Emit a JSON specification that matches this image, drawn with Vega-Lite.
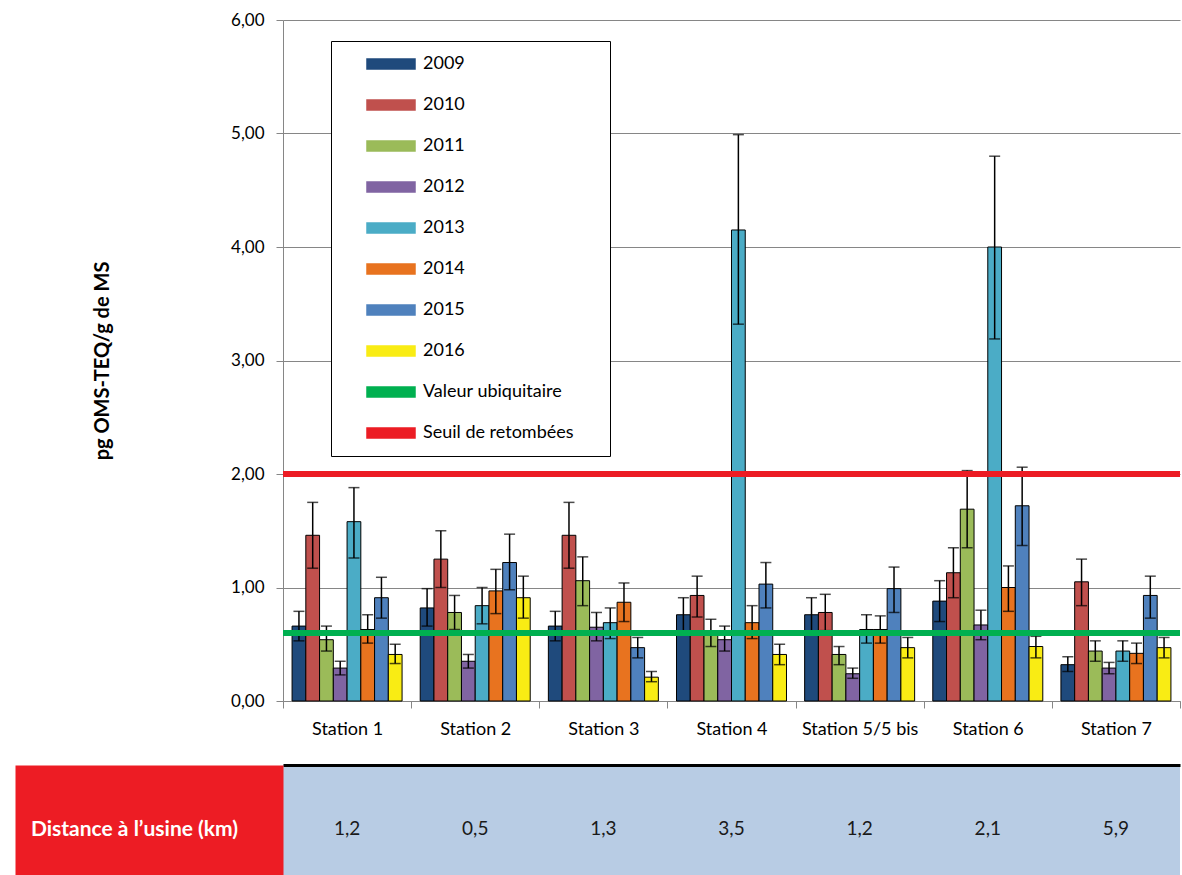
{
  "$schema": "https://vega.github.io/schema/vega-lite/v6.json",
  "padding": {"left": -40, "top": 11, "right": 0, "bottom": 0},
  "spacing": 27,
  "config": {
    "font": "Lato",
    "view": {"stroke": null},
    "locale": {"number": {"decimal": ",", "thousands": " ", "grouping": [3], "currency": ["", " €"]}},
    "axis": {"labelFont": "Lato", "titleFont": "Lato", "labelColor": "#000000", "titleColor": "#000000"}
  },
  "vconcat": [
    {
      "width": 897,
      "height": 681,
      "data": {
        "values": [
          {"station": "Station 1", "year": "2009", "value": 0.66, "lo": 0.53, "hi": 0.79},
          {"station": "Station 1", "year": "2010", "value": 1.46, "lo": 1.17, "hi": 1.75},
          {"station": "Station 1", "year": "2011", "value": 0.54, "lo": 0.44, "hi": 0.66},
          {"station": "Station 1", "year": "2012", "value": 0.29, "lo": 0.23, "hi": 0.35},
          {"station": "Station 1", "year": "2013", "value": 1.58, "lo": 1.26, "hi": 1.88},
          {"station": "Station 1", "year": "2014", "value": 0.63, "lo": 0.51, "hi": 0.76},
          {"station": "Station 1", "year": "2015", "value": 0.91, "lo": 0.73, "hi": 1.09},
          {"station": "Station 1", "year": "2016", "value": 0.41, "lo": 0.33, "hi": 0.5},
          {"station": "Station 2", "year": "2009", "value": 0.82, "lo": 0.66, "hi": 0.99},
          {"station": "Station 2", "year": "2010", "value": 1.25, "lo": 1.0, "hi": 1.5},
          {"station": "Station 2", "year": "2011", "value": 0.78, "lo": 0.63, "hi": 0.93},
          {"station": "Station 2", "year": "2012", "value": 0.35, "lo": 0.29, "hi": 0.41},
          {"station": "Station 2", "year": "2013", "value": 0.84, "lo": 0.68, "hi": 1.0},
          {"station": "Station 2", "year": "2014", "value": 0.97, "lo": 0.77, "hi": 1.16},
          {"station": "Station 2", "year": "2015", "value": 1.22, "lo": 0.98, "hi": 1.47},
          {"station": "Station 2", "year": "2016", "value": 0.91, "lo": 0.73, "hi": 1.1},
          {"station": "Station 3", "year": "2009", "value": 0.66, "lo": 0.53, "hi": 0.79},
          {"station": "Station 3", "year": "2010", "value": 1.46, "lo": 1.17, "hi": 1.75},
          {"station": "Station 3", "year": "2011", "value": 1.06, "lo": 0.84, "hi": 1.27},
          {"station": "Station 3", "year": "2012", "value": 0.65, "lo": 0.53, "hi": 0.78},
          {"station": "Station 3", "year": "2013", "value": 0.69, "lo": 0.55, "hi": 0.82},
          {"station": "Station 3", "year": "2014", "value": 0.87, "lo": 0.7, "hi": 1.04},
          {"station": "Station 3", "year": "2015", "value": 0.47, "lo": 0.38, "hi": 0.56},
          {"station": "Station 3", "year": "2016", "value": 0.21, "lo": 0.17, "hi": 0.26},
          {"station": "Station 4", "year": "2009", "value": 0.76, "lo": 0.61, "hi": 0.91},
          {"station": "Station 4", "year": "2010", "value": 0.93, "lo": 0.74, "hi": 1.1},
          {"station": "Station 4", "year": "2011", "value": 0.6, "lo": 0.48, "hi": 0.72},
          {"station": "Station 4", "year": "2012", "value": 0.54, "lo": 0.44, "hi": 0.66},
          {"station": "Station 4", "year": "2013", "value": 4.15, "lo": 3.32, "hi": 4.99},
          {"station": "Station 4", "year": "2014", "value": 0.69, "lo": 0.55, "hi": 0.84},
          {"station": "Station 4", "year": "2015", "value": 1.03, "lo": 0.82, "hi": 1.22},
          {"station": "Station 4", "year": "2016", "value": 0.41, "lo": 0.32, "hi": 0.5},
          {"station": "Station 5/5 bis", "year": "2009", "value": 0.76, "lo": 0.61, "hi": 0.91},
          {"station": "Station 5/5 bis", "year": "2010", "value": 0.78, "lo": 0.62, "hi": 0.94},
          {"station": "Station 5/5 bis", "year": "2011", "value": 0.41, "lo": 0.32, "hi": 0.48},
          {"station": "Station 5/5 bis", "year": "2012", "value": 0.24, "lo": 0.2, "hi": 0.29},
          {"station": "Station 5/5 bis", "year": "2013", "value": 0.63, "lo": 0.51, "hi": 0.76},
          {"station": "Station 5/5 bis", "year": "2014", "value": 0.63, "lo": 0.51, "hi": 0.75},
          {"station": "Station 5/5 bis", "year": "2015", "value": 0.99, "lo": 0.78, "hi": 1.18},
          {"station": "Station 5/5 bis", "year": "2016", "value": 0.47, "lo": 0.38, "hi": 0.56},
          {"station": "Station 6", "year": "2009", "value": 0.88, "lo": 0.7, "hi": 1.06},
          {"station": "Station 6", "year": "2010", "value": 1.13, "lo": 0.91, "hi": 1.35},
          {"station": "Station 6", "year": "2011", "value": 1.69, "lo": 1.35, "hi": 2.03},
          {"station": "Station 6", "year": "2012", "value": 0.67, "lo": 0.54, "hi": 0.8},
          {"station": "Station 6", "year": "2013", "value": 4.0, "lo": 3.19, "hi": 4.8},
          {"station": "Station 6", "year": "2014", "value": 1.0, "lo": 0.79, "hi": 1.19},
          {"station": "Station 6", "year": "2015", "value": 1.72, "lo": 1.37, "hi": 2.06},
          {"station": "Station 6", "year": "2016", "value": 0.48, "lo": 0.38, "hi": 0.57},
          {"station": "Station 7", "year": "2009", "value": 0.32, "lo": 0.26, "hi": 0.39},
          {"station": "Station 7", "year": "2010", "value": 1.05, "lo": 0.84, "hi": 1.25},
          {"station": "Station 7", "year": "2011", "value": 0.44, "lo": 0.35, "hi": 0.53},
          {"station": "Station 7", "year": "2012", "value": 0.29, "lo": 0.24, "hi": 0.34},
          {"station": "Station 7", "year": "2013", "value": 0.44, "lo": 0.35, "hi": 0.53},
          {"station": "Station 7", "year": "2014", "value": 0.42, "lo": 0.33, "hi": 0.51},
          {"station": "Station 7", "year": "2015", "value": 0.93, "lo": 0.73, "hi": 1.1},
          {"station": "Station 7", "year": "2016", "value": 0.47, "lo": 0.38, "hi": 0.56}
        ]
      },
      "layer": [
        {
          "mark": {"type": "bar", "stroke": "#000000", "strokeWidth": 1},
          "encoding": {
            "x": {
              "field": "station", "type": "nominal",
              "sort": ["Station 1", "Station 2", "Station 3", "Station 4", "Station 5/5 bis", "Station 6", "Station 7"],
              "scale": {"paddingInner": 0, "paddingOuter": 0},
              "axis": {"title": null, "tickBand": "extent", "domainColor": "#868686", "tickColor": "#868686", "tickSize": 7, "labelFontSize": 18, "labelPadding": 12, "labelAngle": 0, "grid": false}
            },
            "xOffset": {"field": "year", "type": "nominal", "scale": {"paddingOuter": 0.66, "paddingInner": 0}},
            "y": {
              "field": "value", "type": "quantitative",
              "scale": {"domain": [0, 6]},
              "axis": {"values": [0, 1, 2, 3, 4, 5, 6], "format": ".2f", "title": "pg OMS-TEQ/g de MS", "titleFontWeight": "bold", "titleFontSize": 20, "titlePadding": 118, "domainColor": "#868686", "tickColor": "#868686", "tickSize": 7, "labelPadding": 12, "labelFontSize": 17, "gridColor": "#868686", "grid": true}
            },
            "color": {
              "field": "year", "type": "nominal",
              "scale": {
                "domain": ["2009", "2010", "2011", "2012", "2013", "2014", "2015", "2016", "Valeur ubiquitaire", "Seuil de retombées"],
                "range": ["#1F4A7C", "#C0504D", "#9BBB59", "#8064A2", "#4BACC6", "#E8731F", "#4F81BD", "#F9EC14", "#00B050", "#EC1C24"]
              },
              "legend": {
                "title": " ", "titleOrient": "right", "titlePadding": 22,
                "orient": "none", "legendX": 48, "legendY": 21,
                "padding": 14, "strokeColor": "#000000", "fillColor": "#ffffff",
                "symbolType": "M-4.8,-1H4.8V1H-4.8Z", "symbolSize": 100, "symbolOffset": 37,
                "labelOffset": 23, "labelFontSize": 18, "labelFont": "Lato", "labelColor": "#000000", "rowPadding": 23,
                "encode": {
                  "legend": {"update": {"strokeWidth": {"value": 1.5}}},
                  "symbols": {
                    "update": {
                      "shape": {"signal": "(datum.value == 'Valeur ubiquitaire' || datum.value == 'Seuil de retombées') ? 'M-5.2,0H4.6' : 'M-4.8,-1H4.8V1H-4.8Z'"},
                      "fill": {"signal": "(datum.value == 'Valeur ubiquitaire' || datum.value == 'Seuil de retombées') ? 'transparent' : scale('color', datum.value)"},
                      "stroke": {"signal": "(datum.value == 'Valeur ubiquitaire' || datum.value == 'Seuil de retombées') ? scale('color', datum.value) : '#000000'"},
                      "strokeWidth": {"signal": "(datum.value == 'Valeur ubiquitaire' || datum.value == 'Seuil de retombées') ? 6 : 1"},
                      "strokeCap": {"value": "round"},
                      "opacity": {"value": 1}
                    }
                  }
                }
              }
            }
          }
        },
        {
          "mark": {"type": "rule", "color": "#000000", "strokeWidth": 1.5},
          "encoding": {
            "x": {"field": "station", "type": "nominal", "sort": ["Station 1", "Station 2", "Station 3", "Station 4", "Station 5/5 bis", "Station 6", "Station 7"]},
            "xOffset": {"field": "year", "type": "nominal"},
            "y": {"field": "lo", "type": "quantitative"},
            "y2": {"field": "hi"}
          }
        },
        {
          "mark": {"type": "tick", "color": "#000000", "thickness": 1.5, "size": 11},
          "encoding": {
            "x": {"field": "station", "type": "nominal", "sort": ["Station 1", "Station 2", "Station 3", "Station 4", "Station 5/5 bis", "Station 6", "Station 7"]},
            "xOffset": {"field": "year", "type": "nominal"},
            "y": {"field": "hi", "type": "quantitative"}
          }
        },
        {
          "mark": {"type": "tick", "color": "#000000", "thickness": 1.5, "size": 11},
          "encoding": {
            "x": {"field": "station", "type": "nominal", "sort": ["Station 1", "Station 2", "Station 3", "Station 4", "Station 5/5 bis", "Station 6", "Station 7"]},
            "xOffset": {"field": "year", "type": "nominal"},
            "y": {"field": "lo", "type": "quantitative"}
          }
        },
        {
          "data": {"values": [
            {"serie": "Valeur ubiquitaire", "seuil": 0.6},
            {"serie": "Seuil de retombées", "seuil": 2.0}
          ]},
          "mark": {"type": "rule", "strokeWidth": 6},
          "encoding": {
            "y": {"field": "seuil", "type": "quantitative"},
            "color": {"field": "serie", "type": "nominal"}
          }
        }
      ]
    },
    {
      "width": 897,
      "height": 110,
      "view": {"fill": "#B8CCE4", "stroke": null},
      "data": {
        "values": [
          {"station": "Station 1", "ligne": "Distance à l’usine (km)", "distance": 1.2},
          {"station": "Station 2", "ligne": "Distance à l’usine (km)", "distance": 0.5},
          {"station": "Station 3", "ligne": "Distance à l’usine (km)", "distance": 1.3},
          {"station": "Station 4", "ligne": "Distance à l’usine (km)", "distance": 3.5},
          {"station": "Station 5/5 bis", "ligne": "Distance à l’usine (km)", "distance": 1.2},
          {"station": "Station 6", "ligne": "Distance à l’usine (km)", "distance": 2.1},
          {"station": "Station 7", "ligne": "Distance à l’usine (km)", "distance": 5.9}
        ]
      },
      "mark": {"type": "text", "fontSize": 19, "color": "#1a1a1a", "dy": 9, "font": "Lato"},
      "encoding": {
        "x": {
          "field": "station", "type": "nominal",
          "sort": ["Station 1", "Station 2", "Station 3", "Station 4", "Station 5/5 bis", "Station 6", "Station 7"],
          "scale": {"paddingInner": 0, "paddingOuter": 0},
          "axis": {"orient": "top", "title": null, "labels": false, "ticks": false, "domainColor": "#000000", "domainWidth": 3, "grid": false}
        },
        "y": {
          "field": "ligne", "type": "nominal",
          "axis": {"title": null, "domain": false, "grid": false, "ticks": true, "tickSize": 268, "tickWidth": 110, "tickColor": "#ED1C24", "tickCap": "butt", "labelPadding": -119, "labelAlign": "center", "labelColor": "#ffffff", "labelFontWeight": "bold", "labelFontSize": 21, "labelLimit": 0, "labelOffset": 9}
        },
        "text": {"field": "distance", "type": "quantitative", "format": ".1f"}
      }
    }
  ]
}
